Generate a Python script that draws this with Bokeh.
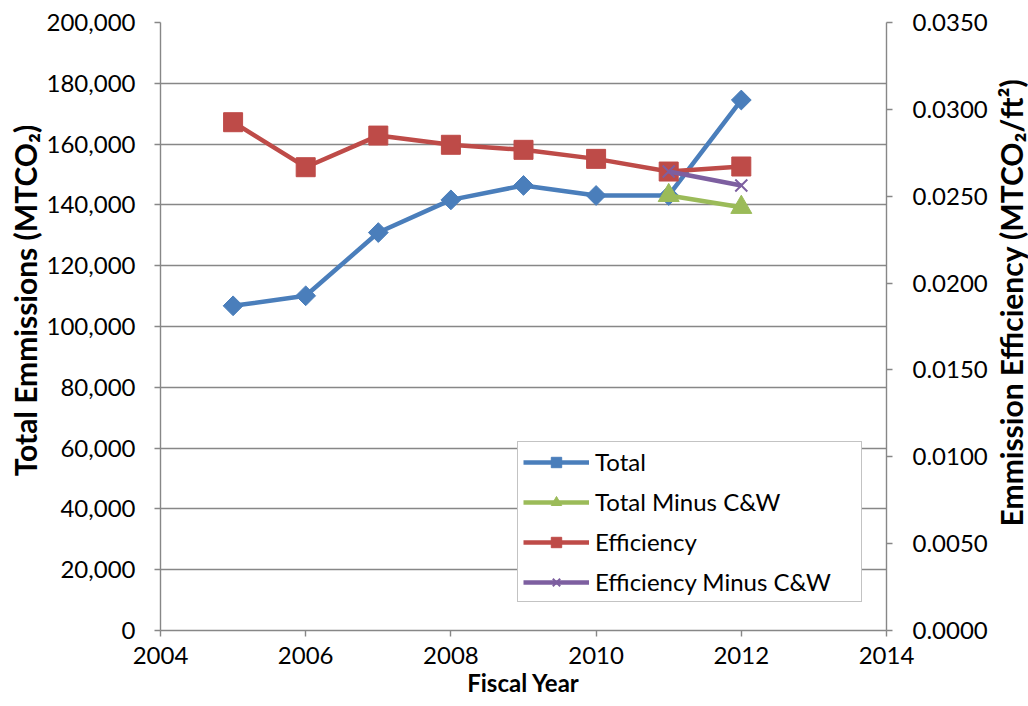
import math

from bokeh.plotting import figure
from bokeh.layouts import row
from bokeh.models import (Range1d, LinearAxis, FixedTicker, NumeralTickFormatter,
                          Legend, LegendItem)
from bokeh.embed import file_html
from bokeh.resources import INLINE

# Fiscal-year emissions data
years = [2005, 2006, 2007, 2008, 2009, 2010, 2011, 2012]
total = [106800, 110100, 130900, 141650, 146400, 143100, 143100, 174500]
efficiency = [0.02926, 0.02667, 0.02849, 0.02796, 0.02767, 0.02715, 0.02642, 0.02671]

minus_years = [2011, 2012]
total_minus_cw = [143100, 139200]
efficiency_minus_cw = [0.02642, 0.02562]

x_ticks = [2004, 2006, 2008, 2010, 2012, 2014]
left_ticks = [0, 20000, 40000, 60000, 80000, 100000, 120000, 140000, 160000, 180000, 200000]
right_ticks = [0.0, 0.005, 0.010, 0.015, 0.020, 0.025, 0.030, 0.035]

LEFT_TITLE = "Total Emmissions (MTCO\u2082)"
RIGHT_TITLE = "Emmission Efficiency (MTCO\u2082/ft\u00b2)"
X_TITLE = "Fiscal Year"

FONT = "Lato"
GRAY = "#878787"
BLUE, GREEN, RED, PURPLE = "#4A7EBB", "#9BBB59", "#BE4B48", "#7D5FA0"
H = 706
TOP, BOTTOM = 22, 76


def title_strip(text, width, height, border_left):
    # narrow companion figure whose only content is a vertical axis title
    f = figure(width=width, height=height, output_backend="svg", toolbar_location=None,
               x_range=Range1d(0, 1), y_range=Range1d(0, 1), x_axis_location=None,
               min_border_left=border_left, min_border_right=0, min_border_top=TOP,
               min_border_bottom=BOTTOM)
    f.outline_line_color = None
    f.grid.grid_line_color = None
    ax = f.yaxis[0]
    ax.ticker = FixedTicker(ticks=[])
    ax.axis_line_color = None
    ax.major_tick_line_color = None
    ax.minor_tick_line_color = None
    ax.major_tick_out = 0
    ax.major_tick_in = 0
    ax.axis_label = text
    ax.axis_label_standoff = 0
    ax.axis_label_text_font = FONT
    ax.axis_label_text_font_style = "bold"
    ax.axis_label_text_font_size = "30px"
    ax.axis_label_text_color = "black"
    return f


left_strip = title_strip(LEFT_TITLE, 43, 654, 42)
right_strip = title_strip(RIGHT_TITLE, 37, 658, 36)

p = figure(width=1028 - 43 - 37, height=H, output_backend="svg", toolbar_location=None,
           x_range=Range1d(2004, 2014), y_range=Range1d(0, 200000),
           min_border_left=114, min_border_right=105, min_border_top=TOP,
           min_border_bottom=BOTTOM)
p.outline_line_color = None
p.background_fill_color = "white"
p.extra_y_ranges = {"eff": Range1d(0, 0.035)}

p.xgrid.grid_line_color = None
p.ygrid.ticker = FixedTicker(ticks=left_ticks)
p.ygrid.grid_line_color = GRAY
p.ygrid.grid_line_width = 1.4

right_axis = LinearAxis(y_range_name="eff")
p.add_layout(right_axis, "right")

for ax in [p.xaxis[0], p.yaxis[0], right_axis]:
    ax.axis_line_color = GRAY
    ax.axis_line_width = 1.4
    ax.major_tick_line_color = GRAY
    ax.major_tick_line_width = 1.4
    ax.major_tick_out = 6
    ax.major_tick_in = 0
    ax.minor_tick_line_color = None
    ax.major_label_text_font = FONT
    ax.major_label_text_font_size = "24px"
    ax.major_label_text_color = "black"

p.xaxis.ticker = FixedTicker(ticks=x_ticks)
p.xaxis.major_label_standoff = 10
p.xaxis.axis_label = X_TITLE
p.xaxis.axis_label_text_font = FONT
p.xaxis.axis_label_text_font_style = "bold"
p.xaxis.axis_label_text_font_size = "24px"
p.xaxis.axis_label_text_color = "black"
p.xaxis.axis_label_standoff = 1

p.yaxis[0].ticker = FixedTicker(ticks=left_ticks)
p.yaxis[0].formatter = NumeralTickFormatter(format="0,0")
p.yaxis[0].major_label_standoff = 19

right_axis.ticker = FixedTicker(ticks=right_ticks)
right_axis.formatter = NumeralTickFormatter(format="0.0000")
right_axis.major_label_standoff = 20

lw = 4.5
r_total_l = p.line(years, total, line_color=BLUE, line_width=lw)
r_total_m = p.scatter(years, total, marker="square", angle=math.pi / 4, size=14,
                      fill_color=BLUE, line_color=BLUE)

r_tm_l = p.line(minus_years, total_minus_cw, line_color=GREEN, line_width=lw)
r_tm_m = p.scatter(minus_years, total_minus_cw, marker="triangle", size=21,
                   fill_color=GREEN, line_color=GREEN)

r_eff_l = p.line(years, efficiency, line_color=RED, line_width=lw, y_range_name="eff")
r_eff_m = p.scatter(years, efficiency, marker="square", size=19, fill_color=RED,
                    line_color=RED, y_range_name="eff")

r_em_l = p.line(minus_years, efficiency_minus_cw, line_color=PURPLE, line_width=lw,
                y_range_name="eff")
r_em_m = p.scatter(minus_years, efficiency_minus_cw, marker="x", size=17,
                   line_color=PURPLE, line_width=2, y_range_name="eff")

legend = Legend(items=[
    LegendItem(label="Total", renderers=[r_total_l, r_total_m]),
    LegendItem(label="Total Minus C&W", renderers=[r_tm_l, r_tm_m]),
    LegendItem(label="Efficiency", renderers=[r_eff_l, r_eff_m]),
    LegendItem(label="Efficiency Minus C&W", renderers=[r_em_l, r_em_m]),
], location=(357, 28))
legend.border_line_color = GRAY
legend.border_line_width = 1.4
legend.background_fill_color = "white"
legend.background_fill_alpha = 1
legend.label_text_font = FONT
legend.label_text_font_size = "24px"
legend.label_text_color = "black"
legend.glyph_width = 66
legend.glyph_height = 26
legend.label_height = 26
legend.label_width = 261
legend.spacing = 11
legend.padding = 5
legend.label_standoff = 6
legend.margin = 0
p.add_layout(legend)

layout = row(left_strip, p, right_strip, spacing=0)
open("out.html", "w").write(file_html(layout, INLINE))
